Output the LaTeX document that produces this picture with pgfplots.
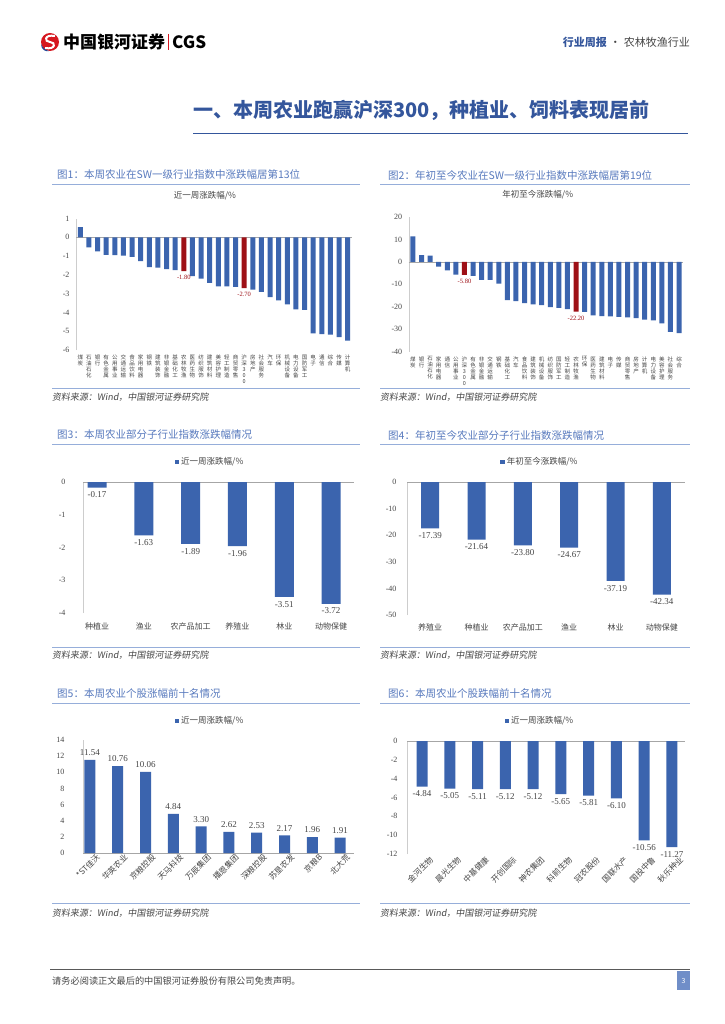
\documentclass[border=0pt]{standalone}
\usepackage{pgfplots}
\pgfplotsset{compat=1.18}
\usepackage{fontspec}
\setmainfont{Noto Sans CJK SC}
\newfontfamily\cjkit{Noto Sans CJK SC}[FakeSlant=0.15]
\newfontfamily\numfont{Liberation Serif}

\definecolor{barblue}{RGB}{59,100,174}
\definecolor{barred}{RGB}{158,16,22}
\definecolor{ttlblue}{RGB}{88,122,190}
\definecolor{lineblue}{RGB}{150,174,218}
\definecolor{headblue}{RGB}{52,86,156}
\definecolor{axgray}{RGB}{205,205,205}
\definecolor{txtgray}{RGB}{70,70,70}
\definecolor{logored}{RGB}{214,24,32}
\definecolor{logoblue}{RGB}{30,70,150}
\definecolor{pagebox}{RGB}{112,142,200}

% stack the characters of a label one above the other
\makeatletter
\def\vs#1{\vs@#1\@nil}
\def\vs@#1#2\@nil{#1\ifx\relax#2\relax\else\\\vs@#2\@nil\fi}
\makeatother

\pgfplotsset{
  pagebar/.style={
    scale only axis, ybar, bar shift=0pt,
    enlargelimits=false, clip=false,
    /pgf/number format/assume math mode=true,
    axis y line*=left, axis x line*=bottom,
    x axis line style={draw=none},
    y axis line style={draw=axgray},
    major tick length=0pt,
    extra y ticks={0}, extra y tick labels={},
    extra y tick style={grid=major, major grid style={draw=black!35}},
    yticklabel style={font=\numfont\fontsize{8}{9}\selectfont, text=txtgray},
    xticklabel style={font=\fontsize{8}{9}\selectfont, text=txtgray},
    title style={font=\fontsize{8.5}{9}\selectfont, text=txtgray, anchor=center},
    legend style={draw=none, fill=none, anchor=center, inner sep=0pt,
      font=\fontsize{8.5}{9}\selectfont, text=txtgray},
    legend image code/.code={\fill[barblue] (0pt,-2.2pt) rectangle (4.4pt,2.2pt);},
    nodes near coords={\pgfmathprintnumber[fixed,fixed zerofill,precision=2]{\pgfplotspointmeta}},
    every node near coord/.append style={font=\numfont\fontsize{9}{10}\selectfont, text=txtgray, inner sep=4pt},
  },
  stackx/.style={
    xticklabel style={align=center, anchor=north, inner sep=0pt, yshift=-5pt,
      font=\fontsize{5.5}{6}\selectfont},
  },
}

\begin{document}
\begin{tikzpicture}
\fill[white] (0,0) rectangle (724pt,-1024pt);
\path[use as bounding box] (0,0) rectangle (724pt,-1024pt);

% ---- page header
\fill[logored] (50pt,-42pt) circle (9pt);
\draw[white, line width=2pt] (55pt,-36pt) .. controls (44pt,-34pt) and (44pt,-42pt) .. (50pt,-42pt)
  .. controls (56pt,-42pt) and (56pt,-50pt) .. (45pt,-48pt);
\fill[logoblue] (41pt,-44pt) .. controls (41pt,-50pt) and (46pt,-52pt) .. (49pt,-51pt)
  .. controls (45pt,-50pt) and (43pt,-48pt) .. (41pt,-44pt);
\node[anchor=west, font=\bfseries\fontsize{17}{18}\selectfont, inner sep=0pt] at (63pt,-42pt) {中国银河证券};
\draw[logored, line width=1pt] (168.5pt,-34pt) -- (168.5pt,-50pt);
\node[anchor=west, font=\bfseries\fontsize{17}{18}\selectfont, inner sep=0pt] at (172pt,-42pt) {CGS};
\node[anchor=east, font=\fontsize{11}{12}\selectfont, inner sep=0pt] at (690pt,-42pt)
  {{\color{headblue}\bfseries 行业周报}\hspace{3pt}{\color{txtgray}·\hspace{3pt}农林牧渔行业}};

\node[anchor=west, font=\bfseries\fontsize{20}{22}\selectfont, text=headblue, inner sep=0pt] at (193pt,-110pt)
  {一、本周农业跑赢沪深300，种植业、饲料表现居前};
\draw[headblue, line width=0.9pt] (193pt,-133pt) -- (688pt,-133pt);

% ---- figure captions, rules and sources
\foreach \yt/\yl/\ys/\ysrc in {175/184/388/397, 435/444/647/655, 694/703/903/913}{
  \draw[lineblue, line width=0.9pt] (52pt,-\yl pt) -- (360pt,-\yl pt);
  \draw[lineblue, line width=0.9pt] (380pt,-\yl pt) -- (690pt,-\yl pt);
  \draw[lineblue, line width=0.9pt] (52pt,-\ys pt) -- (360pt,-\ys pt);
  \draw[lineblue, line width=0.9pt] (380pt,-\ys pt) -- (690pt,-\ys pt);
  \node[anchor=west, font=\cjkit\fontsize{9}{10}\selectfont, text=txtgray, inner sep=0pt] at (52pt,-\ysrc pt) {资料来源：Wind，中国银河证券研究院};
  \node[anchor=west, font=\cjkit\fontsize{9}{10}\selectfont, text=txtgray, inner sep=0pt] at (380pt,-\ysrc pt) {资料来源：Wind，中国银河证券研究院};
}
\tikzset{figcap/.style={anchor=west, font=\fontsize{10.5}{11}\selectfont, text=ttlblue, inner sep=0pt}}
\node[figcap] at (57pt,-175pt) {图1：本周农业在SW一级行业指数中涨跌幅居第13位};
\node[figcap] at (388pt,-175pt) {图2：年初至今农业在SW一级行业指数中涨跌幅居第19位};
\node[figcap] at (57pt,-435pt) {图3：本周农业部分子行业指数涨跌幅情况};
\node[figcap] at (388pt,-435pt) {图4：年初至今农业部分子行业指数涨跌幅情况};
\node[figcap] at (57pt,-694pt) {图5：本周农业个股涨幅前十名情况};
\node[figcap] at (388pt,-694pt) {图6：本周农业个股跌幅前十名情况};

% ---- figure 1
\begin{axis}[pagebar, stackx, at={(76pt,-350pt)}, anchor=south west,
  width=276pt, height=131.5pt, xmin=-0.5, xmax=31.5, ymin=-6, ymax=1,
  ytick={-6,-5,...,1}, yticklabel style={xshift=-3pt},
  xtick={0,...,31},
  xticklabels={\vs{煤炭},\vs{石油石化},\vs{银行},\vs{有色金属},\vs{公用事业},\vs{交通运输},\vs{食品饮料},\vs{家用电器},
    \vs{钢铁},\vs{建筑装饰},\vs{非银金融},\vs{基础化工},\vs{农林牧渔},\vs{医药生物},\vs{纺织服饰},\vs{建筑材料},
    \vs{美容护理},\vs{轻工制造},\vs{商贸零售},\vs{沪深300},\vs{房地产},\vs{社会服务},\vs{汽车},\vs{环保},
    \vs{机械设备},\vs{电力设备},\vs{国防军工},\vs{电子},\vs{通信},\vs{综合},\vs{传媒},\vs{计算机}},
  title={近一周涨跌幅/\%}, title style={at={(0.467,1)}, yshift=16.5pt},
  bar width=5pt]
\addplot[fill=barblue, draw=none, nodes near coords={}] coordinates {
  (0,0.54) (1,-0.54) (2,-0.75) (3,-0.93) (4,-0.95) (5,-0.98) (6,-1.04) (7,-1.27)
  (8,-1.59) (9,-1.62) (10,-1.70) (11,-1.75) (13,-2.07) (14,-2.20) (15,-2.43)
  (16,-2.61) (17,-2.61) (18,-2.64) (20,-2.79) (21,-2.91) (22,-3.18) (23,-3.36)
  (24,-3.57) (25,-3.84) (26,-3.86) (27,-5.11) (28,-5.16) (29,-5.18) (30,-5.32) (31,-5.50)};
\addplot[fill=barred, draw=none,
  every node near coord/.append style={font=\numfont\fontsize{6.5}{7}\selectfont, text=barred}]
  coordinates {(12,-1.80) (19,-2.70)};
\end{axis}

% ---- figure 2
\begin{axis}[pagebar, stackx, at={(408.7pt,-351.5pt)}, anchor=south west,
  width=274.6pt, height=134.5pt, xmin=-0.5, xmax=31.5, ymin=-40, ymax=20,
  ytick={-40,-30,...,20}, yticklabel style={xshift=-3pt},
  xtick={0,...,31},
  xticklabels={\vs{煤炭},\vs{银行},\vs{石油石化},\vs{家用电器},\vs{通信},\vs{公用事业},\vs{沪深300},\vs{有色金属},
    \vs{非银金融},\vs{交通运输},\vs{钢铁},\vs{基础化工},\vs{汽车},\vs{食品饮料},\vs{建筑装饰},\vs{机械设备},
    \vs{纺织服饰},\vs{国防军工},\vs{轻工制造},\vs{农林牧渔},\vs{环保},\vs{医药生物},\vs{建筑材料},\vs{电子},
    \vs{传媒},\vs{商贸零售},\vs{房地产},\vs{计算机},\vs{电力设备},\vs{美容护理},\vs{社会服务},\vs{综合}},
  title={年初至今涨跌幅/\%}, title style={at={(0.47,1)}, yshift=16.5pt},
  bar width=5pt]
\addplot[fill=barblue, draw=none, nodes near coords={}] coordinates {
  (0,11.40) (1,3.05) (2,2.75) (3,-2.16) (4,-3.80) (5,-5.70) (7,-6.30) (8,-8.00)
  (9,-8.10) (10,-9.75) (11,-17.05) (12,-17.50) (13,-18.40) (14,-19.00) (15,-19.30)
  (16,-20.20) (17,-20.50) (18,-21.10) (20,-22.30) (21,-23.90) (22,-24.20) (23,-24.30)
  (24,-24.60) (25,-24.80) (26,-25.10) (27,-25.80) (28,-26.10) (29,-27.50) (30,-31.20) (31,-31.80)};
\addplot[fill=barred, draw=none,
  every node near coord/.append style={font=\numfont\fontsize{6.5}{7}\selectfont, text=barred}]
  coordinates {(6,-5.80) (19,-22.20)};
\end{axis}

% ---- figure 3
\begin{axis}[pagebar, at={(83pt,-613pt)}, anchor=south west,
  width=271pt, height=131pt, xmin=-0.3, xmax=5.49, ymin=-4, ymax=0,
  ytick={-4,-3,...,0}, yticklabel style={xshift=-14pt},
  xtick={0,...,5}, xticklabel style={yshift=-6pt},
  xticklabels={种植业,渔业,农产品加工,养殖业,林业,动物保健},
  legend style={at={(0.469,1)}, yshift=20pt},
  bar width=19pt]
\addplot[fill=barblue, draw=none] coordinates {
  (0,-0.17) (1,-1.63) (2,-1.89) (3,-1.96) (4,-3.51) (5,-3.72)};
\addlegendentry{近一周涨跌幅/\%}
\end{axis}

% ---- figure 4
\begin{axis}[pagebar, at={(407pt,-615pt)}, anchor=south west,
  width=278pt, height=133pt, xmin=-0.5, xmax=5.5, ymin=-50, ymax=0,
  ytick={-50,-40,...,0}, yticklabel style={xshift=-7pt},
  xtick={0,...,5}, xticklabel style={yshift=-5pt},
  xticklabels={养殖业,种植业,农产品加工,渔业,林业,动物保健},
  legend style={at={(0.478,1)}, yshift=20pt},
  bar width=18pt]
\addplot[fill=barblue, draw=none] coordinates {
  (0,-17.39) (1,-21.64) (2,-23.80) (3,-24.67) (4,-37.19) (5,-42.34)};
\addlegendentry{年初至今涨跌幅/\%}
\end{axis}

% ---- figure 5
\begin{axis}[pagebar, at={(83pt,-853pt)}, anchor=south west,
  width=271pt, height=113pt, xmin=-0.25, xmax=9.5, ymin=0, ymax=14,
  ytick={0,2,...,14}, yticklabel style={xshift=-15pt},
  xtick={0,...,9},
  xticklabel style={rotate=45, anchor=north east, inner sep=1pt, xshift=5pt, yshift=-3pt},
  xticklabels={*ST佳沃,华英农业,京粮控股,天马科技,万辰集团,播恩集团,深粮控股,苏垦农发,京粮B,北大荒},
  legend style={at={(0.469,1)}, yshift=19pt},
  bar width=11pt]
\addplot[fill=barblue, draw=none] coordinates {
  (0,11.54) (1,10.76) (2,10.06) (3,4.84) (4,3.30) (5,2.62) (6,2.53) (7,2.17) (8,1.96) (9,1.91)};
\addlegendentry{近一周涨跌幅/\%}
\end{axis}

% ---- figure 6
\begin{axis}[pagebar, at={(407pt,-854pt)}, anchor=south west,
  width=278pt, height=113pt, xmin=-0.54, xmax=9.47, ymin=-12, ymax=0,
  ytick={-12,-10,...,0}, yticklabel style={xshift=-6pt},
  xtick={0,...,9},
  xticklabel style={rotate=45, anchor=north east, inner sep=1pt, xshift=5pt, yshift=-5pt},
  xticklabels={金河生物,晨光生物,中基健康,开创国际,神农集团,科前生物,冠农股份,国联水产,国投中鲁,秋乐种业},
  legend style={at={(0.478,1)}, yshift=20pt},
  bar width=11pt]
\addplot[fill=barblue, draw=none] coordinates {
  (0,-4.84) (1,-5.05) (2,-5.11) (3,-5.12) (4,-5.12) (5,-5.65) (6,-5.81) (7,-6.10) (8,-10.56) (9,-11.27)};
\addlegendentry{近一周涨跌幅/\%}
\end{axis}

% ---- footer
\draw[black!65, line width=0.8pt] (50pt,-969pt) -- (690pt,-969pt);
\node[anchor=west, font=\fontsize{9.2}{10}\selectfont, text=txtgray, inner sep=0pt] at (52pt,-981pt)
  {请务必阅读正文最后的中国银河证券股份有限公司免责声明。};
\fill[pagebox] (677pt,-971pt) rectangle (690pt,-990pt);
\node[font=\fontsize{7}{8}\selectfont, text=white] at (683.5pt,-980.5pt) {3};
\end{tikzpicture}
\end{document}
